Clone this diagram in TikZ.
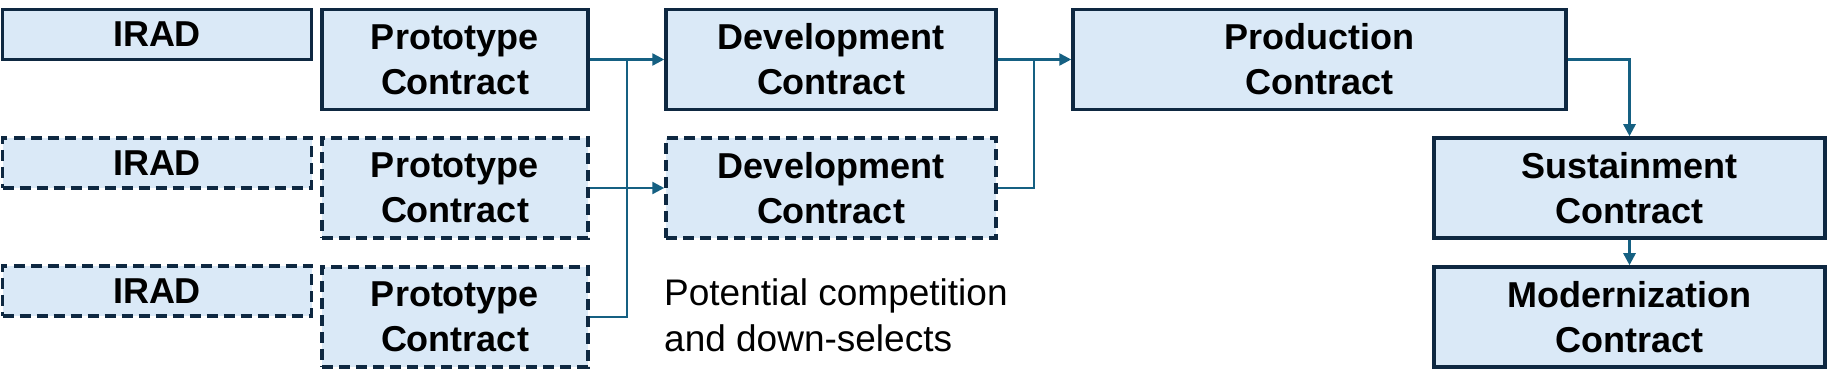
\documentclass[tikz,border=0pt]{standalone}
\usepackage{fontspec}
\setmainfont{Liberation Sans}
\usetikzlibrary{arrows.meta}
\definecolor{boxfill}{HTML}{DAE9F7}
\definecolor{boxline}{HTML}{0E2841}
\definecolor{flow}{HTML}{156082}
\begin{document}
\begin{tikzpicture}[x=1pt,y=1pt,
  box/.style={draw=boxline,fill=boxfill,line width=3.5pt,inner sep=0pt,align=center,
    font=\fontsize{36}{45}\selectfont\bfseries,minimum height=100pt},
  option/.style={box,dash pattern=on 11pt off 6pt},
  flowline/.style={draw=flow,line width=2.5pt},
  arr/.style={flowline,-{Triangle[length=12pt,width=12pt]}}]
\useasboundingbox (0,0) rectangle (1830,385);
\node[box,minimum width=309pt,minimum height=50pt] (irad1) at (157,350.5) {IRAD};
\node[option,minimum width=309pt,minimum height=50pt] (irad2) at (157,222) {IRAD};
\node[option,minimum width=309pt,minimum height=50pt] (irad3) at (157,94) {IRAD};
\node[box,minimum width=266pt] (proto1) at (455,325.5) {Prototype\\Contract};
\node[option,minimum width=266pt] (proto2) at (455,197) {Prototype\\Contract};
\node[option,minimum width=266pt] (proto3) at (455,68) {Prototype\\Contract};
\node[box,minimum width=330pt] (dev1) at (831,325.5) {Development\\Contract};
\node[option,minimum width=330pt] (dev2) at (831,197) {Development\\Contract};
\node[box,minimum width=493pt] (prod) at (1319.5,325.5) {Production\\Contract};
\node[box,minimum width=391pt] (sust) at (1629.5,197) {Sustainment\\Contract};
\node[box,minimum width=391pt] (mod) at (1629.5,68) {Modernization\\Contract};
\node[anchor=west,align=left,inner sep=0pt,font=\fontsize{37}{46}\selectfont] (note) at (664,70) {Potential competition\\and down-selects};
\coordinate (j1) at (627,325.5);
\coordinate (j2) at (1034,325.5);
\draw[arr] (proto1) -- (dev1);
\draw[arr] (proto2) -- (dev2);
\draw[flowline] (proto3.east) -| (j1);
\draw[arr] (dev1) -- (prod);
\draw[flowline] (dev2.east) -| (j2);
\draw[arr] (prod.east) -| (sust.north);
\draw[arr] (sust) -- (mod);
\end{tikzpicture}
\end{document}
